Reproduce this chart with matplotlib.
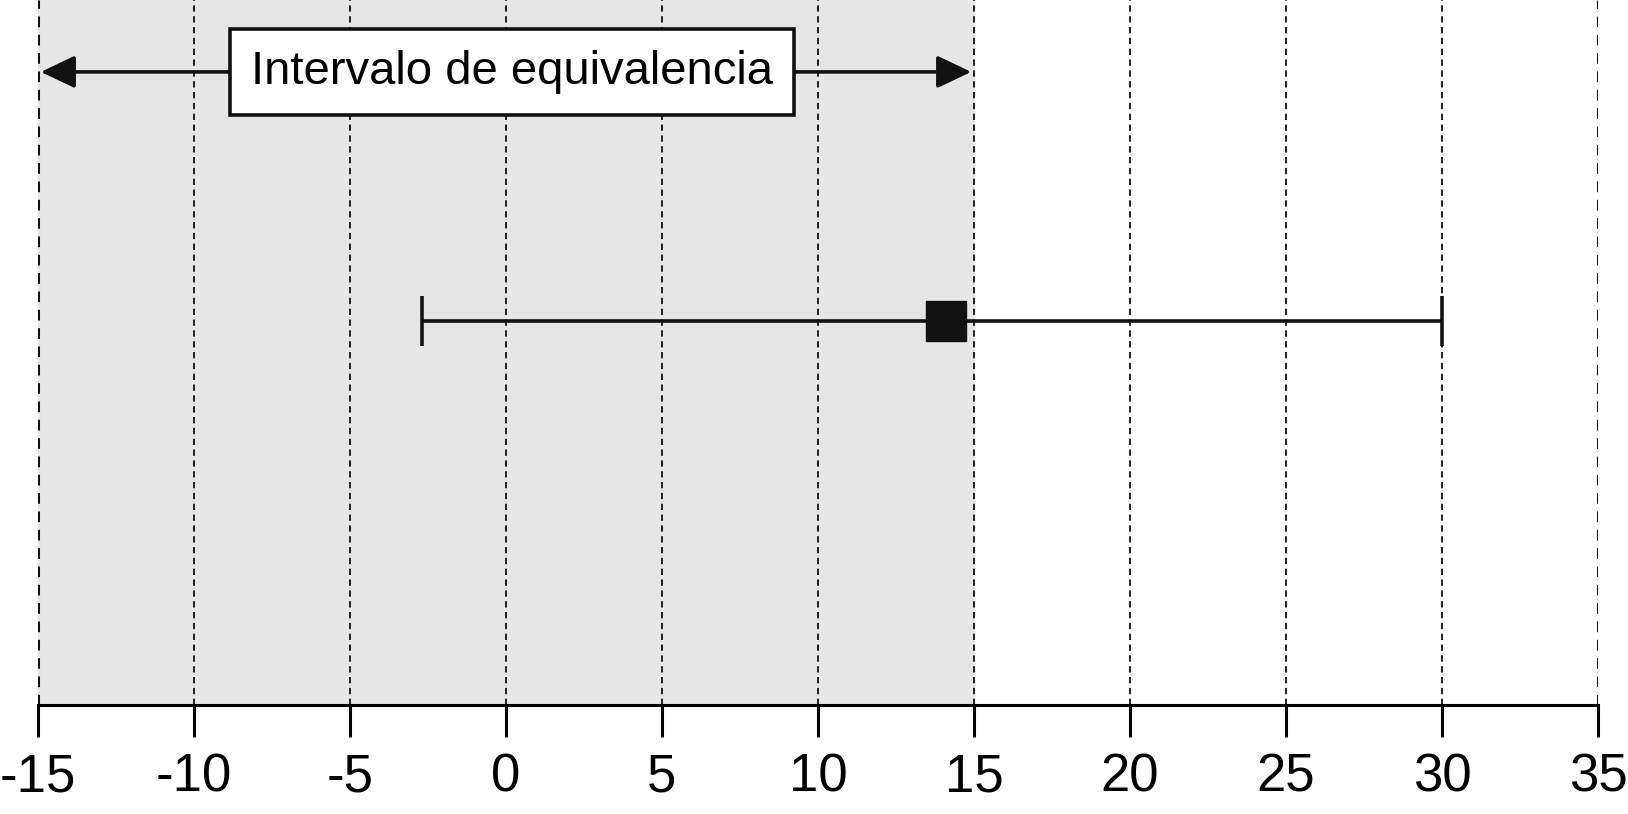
import matplotlib.pyplot as plt
import numpy as np

plt.rcParams['font.family'] = ['Liberation Sans', 'DejaVu Sans']
plt.rcParams['axes.unicode_minus'] = False

# Data
ticks = list(range(-15, 40, 5))
equiv_low, equiv_high = -15, 15
estimate = 14.1
ci_low, ci_high = -2.7, 30.0
label = 'Intervalo de equivalencia'

fig = plt.figure(figsize=(16.28, 8.14), dpi=100)
ax = fig.add_axes([38 / 1628, 109 / 814, 1560 / 1628, 705 / 814])
ax.set_xlim(ticks[0], ticks[-1])
ax.set_ylim(0, 1)

# shaded equivalence zone
ax.axvspan(equiv_low, equiv_high, color='#e6e6e6', zorder=0)

# dashed grid lines
for t in ticks:
    lw = 2.2 if t in (ticks[0], ticks[-1]) else 1.3
    ax.axvline(t, color='#111111', lw=lw, ls=(0, (3.5, 2.5)), zorder=1)

# confidence interval and point estimate
ax.errorbar(estimate, 0.545, xerr=[[estimate - ci_low], [ci_high - estimate]],
            fmt='s', ms=29, color='#111111', ecolor='#111111',
            elinewidth=2.6, capsize=18, capthick=2.6, zorder=3)

# arrow spanning the equivalence interval
ax.annotate('', xy=(equiv_low, 0.898), xytext=(equiv_high, 0.898),
            arrowprops=dict(arrowstyle='<|-|>,head_length=1.05,head_width=0.5',
                            mutation_scale=20, color='#111111', lw=2.6,
                            shrinkA=2, shrinkB=2), zorder=4)
ax.text(0.2, 0.898, label, ha='center', va='center', fontsize=34, zorder=5,
        bbox=dict(boxstyle='square,pad=0.45', fc='white', ec='#111111', lw=2.6))

# axis styling
for s in ('top', 'left', 'right'):
    ax.spines[s].set_visible(False)
ax.spines['bottom'].set_linewidth(2.2)
ax.set_yticks([])
ax.set_xticks(ticks)
ax.set_xticklabels([str(t) for t in ticks])
ax.tick_params(axis='x', length=23, width=2.2, labelsize=38, pad=11)

fig.savefig('out.png', dpi=100)
